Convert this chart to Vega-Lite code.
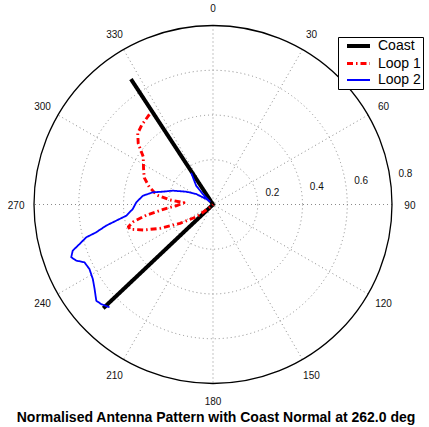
{
  "$schema": "https://vega.github.io/schema/vega-lite/v6.json",
  "width": 426,
  "height": 409,
  "autosize": {"type": "none"},
  "padding": {"left": 0, "top": 0, "right": 3, "bottom": 18},
  "background": "white",
  "config": {
    "view": {"stroke": null},
    "font": "Liberation Sans",
    "legend": {
      "orient": "none",
      "legendX": 338,
      "legendY": 37,
      "labelFontSize": 14,
      "labelFont": "Liberation Sans",
      "labelColor": "black",
      "labelExpr": "datum.label + ' '",
      "symbolType": "M0,0H4.6",
      "symbolSize": 100,
      "strokeColor": "black",
      "fillColor": "white",
      "padding": 2,
      "rowPadding": 2.5,
      "labelOffset": 24
    }
  },
  "title": {
    "text": "Normalised Antenna Pattern with Coast Normal at 262.0 deg",
    "orient": "bottom",
    "anchor": "middle",
    "frame": "group",
    "offset": 2,
    "baseline": "top",
    "fontSize": 14,
    "fontWeight": "bold",
    "font": "Liberation Sans",
    "color": "black",
    "dx": 3
  },
  "datasets": {
    "rings": [{"r": 0.2}, {"r": 0.4}, {"r": 0.6}],
    "outer": [{"r": 0.8}],
    "spokes": [{"a": 0}, {"a": 30}, {"a": 60}, {"a": 90}, {"a": 120}, {"a": 150}],
    "alabels": [{"a": 0, "t": "0"}, {"a": 30, "t": "30"}, {"a": 60, "t": "60"}, {"a": 90, "t": "90"}, {"a": 120, "t": "120"}, {"a": 150, "t": "150"}, {"a": 180, "t": "180"}, {"a": 210, "t": "210"}, {"a": 240, "t": "240"}, {"a": 270, "t": "270"}, {"a": 300, "t": "300"}, {"a": 330, "t": "330"}],
    "rlabels": [{"r": 0.2, "t": "0.2"}, {"r": 0.4, "t": "0.4"}, {"r": 0.6, "t": "0.6"}, {"r": 0.8, "t": "0.8"}],
    "curves": [
      {"series": "Coast", "seq": 0, "angle": 326.8, "r": 0.670},
      {"series": "Coast", "seq": 1, "angle": 0, "r": 0},
      {"series": "Coast", "seq": 2, "angle": 226.6, "r": 0.675},
      {"series": "Loop 1", "seq": 0, "angle": 324.8, "r": 0.493},
      {"series": "Loop 1", "seq": 1, "angle": 318.1, "r": 0.477},
      {"series": "Loop 1", "seq": 2, "angle": 313.4, "r": 0.463},
      {"series": "Loop 1", "seq": 3, "angle": 309.3, "r": 0.432},
      {"series": "Loop 1", "seq": 4, "angle": 304.4, "r": 0.378},
      {"series": "Loop 1", "seq": 5, "angle": 297.5, "r": 0.350},
      {"series": "Loop 1", "seq": 6, "angle": 291.3, "r": 0.330},
      {"series": "Loop 1", "seq": 7, "angle": 285.5, "r": 0.296},
      {"series": "Loop 1", "seq": 8, "angle": 279.6, "r": 0.255},
      {"series": "Loop 1", "seq": 9, "angle": 276.0, "r": 0.193},
      {"series": "Loop 1", "seq": 10, "angle": 273.5, "r": 0.130},
      {"series": "Loop 1", "seq": 11, "angle": 268.0, "r": 0.165},
      {"series": "Loop 1", "seq": 12, "angle": 265.3, "r": 0.208},
      {"series": "Loop 1", "seq": 13, "angle": 261.0, "r": 0.300},
      {"series": "Loop 1", "seq": 14, "angle": 257.8, "r": 0.364},
      {"series": "Loop 1", "seq": 15, "angle": 255.3, "r": 0.391},
      {"series": "Loop 1", "seq": 16, "angle": 253.4, "r": 0.387},
      {"series": "Loop 1", "seq": 17, "angle": 249.9, "r": 0.332},
      {"series": "Loop 1", "seq": 18, "angle": 245.8, "r": 0.260},
      {"series": "Loop 1", "seq": 19, "angle": 240.3, "r": 0.170},
      {"series": "Loop 1", "seq": 20, "angle": 233.2, "r": 0.091},
      {"series": "Loop 1", "seq": 21, "angle": 230.0, "r": 0.030},
      {"series": "Loop 1", "seq": 22, "angle": 227.0, "r": 0.0},
      {"series": "Loop 2", "seq": 0, "angle": 325.5, "r": 0.172},
      {"series": "Loop 2", "seq": 1, "angle": 318.2, "r": 0.113},
      {"series": "Loop 2", "seq": 2, "angle": 315.8, "r": 0.065},
      {"series": "Loop 2", "seq": 3, "angle": 313.0, "r": 0.020},
      {"series": "Loop 2", "seq": 4, "angle": 309.0, "r": 0.039},
      {"series": "Loop 2", "seq": 5, "angle": 302.0, "r": 0.089},
      {"series": "Loop 2", "seq": 6, "angle": 295.5, "r": 0.133},
      {"series": "Loop 2", "seq": 7, "angle": 289.0, "r": 0.190},
      {"series": "Loop 2", "seq": 8, "angle": 284.3, "r": 0.232},
      {"series": "Loop 2", "seq": 9, "angle": 281.5, "r": 0.274},
      {"series": "Loop 2", "seq": 10, "angle": 277.1, "r": 0.316},
      {"series": "Loop 2", "seq": 11, "angle": 271.6, "r": 0.343},
      {"series": "Loop 2", "seq": 12, "angle": 266.8, "r": 0.359},
      {"series": "Loop 2", "seq": 13, "angle": 262.6, "r": 0.391},
      {"series": "Loop 2", "seq": 14, "angle": 260.5, "r": 0.439},
      {"series": "Loop 2", "seq": 15, "angle": 258.8, "r": 0.487},
      {"series": "Loop 2", "seq": 16, "angle": 256.6, "r": 0.537},
      {"series": "Loop 2", "seq": 17, "angle": 255.5, "r": 0.585},
      {"series": "Loop 2", "seq": 18, "angle": 253.5, "r": 0.622},
      {"series": "Loop 2", "seq": 19, "angle": 251.8, "r": 0.660},
      {"series": "Loop 2", "seq": 20, "angle": 249.6, "r": 0.676},
      {"series": "Loop 2", "seq": 21, "angle": 247.7, "r": 0.661},
      {"series": "Loop 2", "seq": 22, "angle": 245.8, "r": 0.630},
      {"series": "Loop 2", "seq": 23, "angle": 242.4, "r": 0.623},
      {"series": "Loop 2", "seq": 24, "angle": 238.2, "r": 0.632},
      {"series": "Loop 2", "seq": 25, "angle": 234.5, "r": 0.650},
      {"series": "Loop 2", "seq": 26, "angle": 230.5, "r": 0.676},
      {"series": "Loop 2", "seq": 27, "angle": 228.3, "r": 0.669},
      {"series": "Loop 2", "seq": 28, "angle": 225.2, "r": 0.652}
    ]
  },
  "layer": [
    {
      "data": {"name": "spokes"},
      "transform": [
        {"calculate": "0.8*sin(datum.a*PI/180)", "as": "sx"},
        {"calculate": "0.8*cos(datum.a*PI/180)", "as": "sy"},
        {"calculate": "-datum.sx", "as": "ex"},
        {"calculate": "-datum.sy", "as": "ey"}
      ],
      "mark": {"type": "rule", "stroke": "#8a8a8a", "strokeWidth": 1, "strokeDash": [1, 3]},
      "encoding": {
        "x": {"field": "sx", "type": "quantitative", "scale": {"domain": [-0.951955, 0.951955], "nice": false, "zero": false}, "axis": null},
        "y": {"field": "sy", "type": "quantitative", "scale": {"domain": [-0.913966, 0.913966], "nice": false, "zero": false}, "axis": null},
        "x2": {"field": "ex"},
        "y2": {"field": "ey"}
      }
    },
    {
      "data": {"name": "rings"},
      "mark": {"type": "point", "shape": "circle", "filled": false, "opacity": 1, "stroke": "#8a8a8a", "strokeWidth": 1, "strokeDash": [1, 3]},
      "encoding": {
        "x": {"datum": 0, "type": "quantitative"},
        "y": {"datum": 0, "type": "quantitative"},
        "size": {"field": "r", "type": "quantitative", "legend": null, "scale": {"type": "pow", "exponent": 2, "domain": [0, 0.8], "range": [0, 128164], "zero": true, "nice": false}}
      }
    },
    {
      "data": {"name": "outer"},
      "mark": {"type": "point", "shape": "circle", "filled": false, "opacity": 1, "stroke": "black", "strokeWidth": 1.3},
      "encoding": {
        "x": {"datum": 0, "type": "quantitative"},
        "y": {"datum": 0, "type": "quantitative"},
        "size": {"field": "r", "type": "quantitative", "legend": null}
      }
    },
    {
      "data": {"name": "alabels"},
      "transform": [
        {"calculate": "0.88*sin(datum.a*PI/180)", "as": "lx"},
        {"calculate": "0.88*cos(datum.a*PI/180)", "as": "ly"}
      ],
      "mark": {"type": "text", "align": "center", "baseline": "middle", "fontSize": 10, "font": "Liberation Sans", "color": "#111", "dy": 1},
      "encoding": {
        "x": {"field": "lx", "type": "quantitative"},
        "y": {"field": "ly", "type": "quantitative"},
        "text": {"field": "t"}
      }
    },
    {
      "data": {"name": "rlabels"},
      "transform": [
        {"calculate": "(datum.r+0.01)*sin(82*PI/180)", "as": "lx"},
        {"calculate": "(datum.r+0.01)*cos(82*PI/180)", "as": "ly"}
      ],
      "mark": {"type": "text", "align": "left", "baseline": "bottom", "fontSize": 10, "font": "Liberation Sans", "color": "#111", "dx": 6},
      "encoding": {
        "x": {"field": "lx", "type": "quantitative"},
        "y": {"field": "ly", "type": "quantitative"},
        "text": {"field": "t"}
      }
    },
    {
      "data": {"name": "curves"},
      "transform": [
        {"calculate": "datum.r*sin(datum.angle*PI/180)", "as": "px"},
        {"calculate": "datum.r*cos(datum.angle*PI/180)", "as": "py"}
      ],
      "mark": {"type": "line", "strokeCap": "butt", "strokeJoin": "round"},
      "encoding": {
        "x": {"field": "px", "type": "quantitative"},
        "y": {"field": "py", "type": "quantitative"},
        "order": {"field": "seq", "type": "quantitative"},
        "color": {"field": "series", "type": "nominal", "title": null, "scale": {"domain": ["Coast", "Loop 1", "Loop 2"], "range": ["black", "#ff0000", "#0000ff"]}},
        "strokeDash": {"field": "series", "type": "nominal", "title": null, "scale": {"domain": ["Coast", "Loop 1", "Loop 2"], "range": [[1, 0], [6, 3, 1.5, 3], [1, 0]]}},
        "strokeWidth": {"field": "series", "type": "nominal", "title": null, "scale": {"domain": ["Coast", "Loop 1", "Loop 2"], "range": [4, 1.8, 1.8]}}
      }
    }
  ]
}
